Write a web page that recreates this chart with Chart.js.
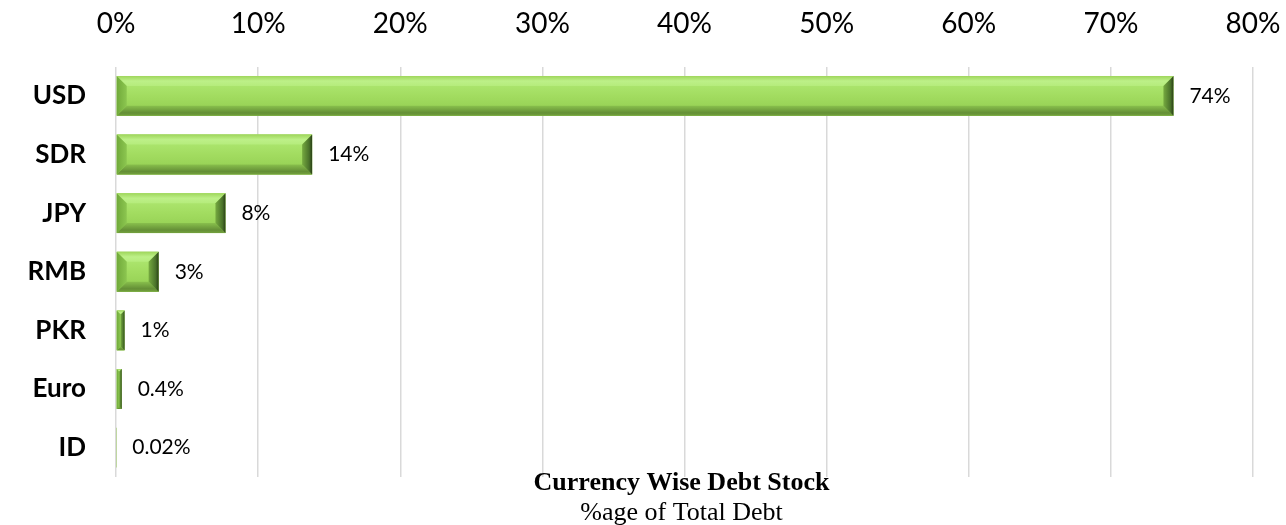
<!DOCTYPE html>
<html>
<head>
<meta charset="utf-8">
<script src="https://cdn.jsdelivr.net/npm/chart.js@4.4.1/dist/chart.umd.min.js"></script>
<style>
    html, body { margin: 0; padding: 0; background: #fff; }
    #wrap { width: 1286px; height: 525px; position: relative; }
</style>
</head>
<body>
<div id="wrap"><canvas id="debtChart"></canvas></div>
<script>
// --- DATA ---
const currencies = ['USD', 'SDR', 'JPY', 'RMB', 'PKR', 'Euro', 'ID'];
const debtShare = [74.4, 13.8, 7.7, 3.0, 0.6, 0.4, 0.02];
const shareLabels = ['74%', '14%', '8%', '3%', '1%', '0.4%', '0.02%'];
const xTickLabels = ['0%', '10%', '20%', '30%', '40%', '50%', '60%', '70%', '80%'];
const chartTitle = 'Currency Wise Debt Stock';
const chartSubtitle = '%age of Total Debt';

// --- bevelled look of the bars (drawn over the library's bars) ---
const bevelBars = {
    id: 'bevelBars',
    afterDatasetsDraw(chart) {
        const ctx = chart.ctx;
        const meta = chart.getDatasetMeta(0);
        meta.data.forEach((bar) => {
            const p = bar.getProps(['x', 'y', 'base', 'height'], true);
            const left = Math.min(p.base, p.x);
            const right = Math.max(p.base, p.x);
            const top = p.y - p.height / 2;
            const bottom = p.y + p.height / 2;
            const w = right - left;
            const h = bottom - top;
            if (w < 0.5) return;
            const b = Math.min(10, w / 2, h / 2);

            ctx.save();
            // centre face
            let g = ctx.createLinearGradient(0, top, 0, bottom);
            g.addColorStop(0, '#b3ec78');
            g.addColorStop(0.5, '#a2dc60');
            g.addColorStop(1, '#90cb4f');
            ctx.fillStyle = g;
            ctx.fillRect(left, top, w, h);

            // top face
            g = ctx.createLinearGradient(0, top, 0, top + b);
            g.addColorStop(0, '#9fd65c');
            g.addColorStop(0.5, '#bdf088');
            g.addColorStop(1, '#b5ec7c');
            ctx.fillStyle = g;
            ctx.beginPath();
            ctx.moveTo(left, top); ctx.lineTo(right, top);
            ctx.lineTo(right - b, top + b); ctx.lineTo(left + b, top + b);
            ctx.closePath(); ctx.fill();

            // bottom face
            g = ctx.createLinearGradient(0, bottom - b, 0, bottom);
            g.addColorStop(0, '#88bf4c');
            g.addColorStop(0.7, '#648f36');
            g.addColorStop(1, '#74a23e');
            ctx.fillStyle = g;
            ctx.beginPath();
            ctx.moveTo(left, bottom); ctx.lineTo(right, bottom);
            ctx.lineTo(right - b, bottom - b); ctx.lineTo(left + b, bottom - b);
            ctx.closePath(); ctx.fill();

            // left face
            g = ctx.createLinearGradient(left, 0, left + b, 0);
            g.addColorStop(0, '#70a93a');
            g.addColorStop(1, '#8cc650');
            ctx.fillStyle = g;
            ctx.beginPath();
            ctx.moveTo(left, top); ctx.lineTo(left + b, top + b);
            ctx.lineTo(left + b, bottom - b); ctx.lineTo(left, bottom);
            ctx.closePath(); ctx.fill();

            // right face
            g = ctx.createLinearGradient(right - b, 0, right, 0);
            g.addColorStop(0, '#76aa40');
            g.addColorStop(0.7, '#4a722a');
            g.addColorStop(1, '#2a4017');
            ctx.fillStyle = g;
            ctx.beginPath();
            ctx.moveTo(right, top); ctx.lineTo(right - b, top + b);
            ctx.lineTo(right - b, bottom - b); ctx.lineTo(right, bottom);
            ctx.closePath(); ctx.fill();
            ctx.restore();
        });
    }
};

// --- value labels at the end of each bar ---
const valueLabels = {
    id: 'valueLabels',
    afterDatasetsDraw(chart) {
        const ctx = chart.ctx;
        const meta = chart.getDatasetMeta(0);
        ctx.save();
        ctx.font = '21px Lato';
        ctx.fillStyle = '#000';
        ctx.textAlign = 'left';
        ctx.textBaseline = 'middle';
        meta.data.forEach((bar, i) => {
            ctx.fillText(shareLabels[i], bar.x + 16, bar.y);
        });
        ctx.restore();
    }
};

// --- title under the plot, over the grid lines ---
const bottomTitle = {
    id: 'bottomTitle',
    afterDraw(chart) {
        const ctx = chart.ctx;
        const cx = (chart.chartArea.left + chart.chartArea.right) / 2 - 3;
        ctx.save();
        ctx.fillStyle = '#000';
        ctx.textAlign = 'center';
        ctx.textBaseline = 'alphabetic';
        ctx.font = 'bold 26px "Liberation Serif"';
        ctx.fillText(chartTitle, cx, 490);
        ctx.font = '26px "Liberation Serif"';
        ctx.fillText(chartSubtitle, cx, 520);
        ctx.restore();
    }
};

new Chart(document.getElementById('debtChart'), {
    type: 'bar',
    data: {
        labels: currencies,
        datasets: [{
            data: debtShare,
            backgroundColor: '#8fc24f',
            borderWidth: 0,
            barPercentage: 0.68,
            categoryPercentage: 1
        }]
    },
    options: {
        indexAxis: 'y',
        responsive: true,
        maintainAspectRatio: false,
        animation: false,
        layout: { padding: { top: 4, right: 33, bottom: 48, left: 0 } },
        scales: {
            x: {
                position: 'top',
                min: 0,
                max: 80,
                ticks: {
                    stepSize: 10,
                    callback: (value, index) => xTickLabels[index],
                    font: { family: 'Lato', size: 28 },
                    color: '#000',
                    padding: 3
                },
                grid: {
                    color: '#d9d9d9',
                    lineWidth: 1.5,
                    drawTicks: true,
                    tickLength: 23,
                    tickColor: 'rgba(0,0,0,0)'
                },
                border: { display: false }
            },
            y: {
                ticks: {
                    font: { family: 'Lato', size: 26, weight: 'bold' },
                    color: '#000',
                    padding: 0
                },
                grid: {
                    display: false,
                    drawTicks: true,
                    tickLength: 30,
                    tickColor: 'rgba(0,0,0,0)'
                },
                border: { display: false },
                afterFit: (axis) => { axis.width = 116; }
            }
        },
        plugins: {
            legend: { display: false },
            tooltip: { enabled: false }
        }
    },
    plugins: [bevelBars, valueLabels, bottomTitle]
});
</script>
</body>
</html>
